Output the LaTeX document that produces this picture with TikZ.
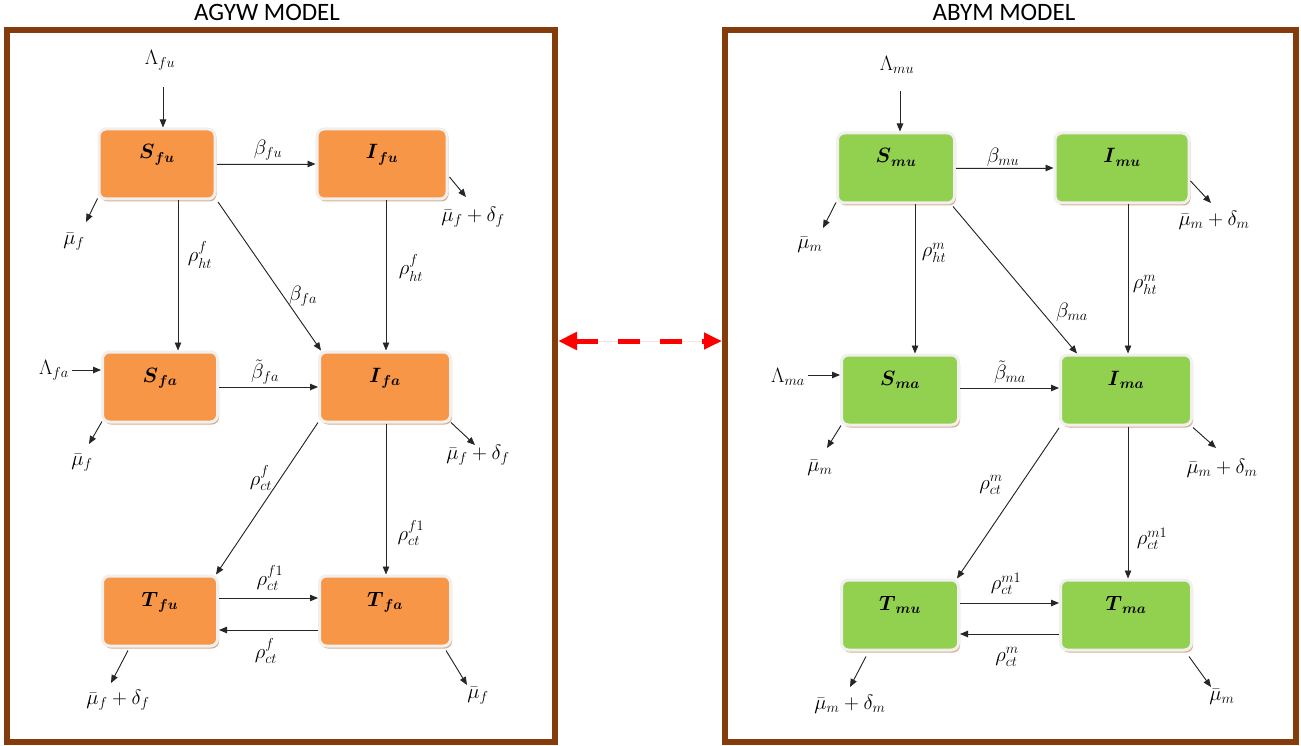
\documentclass[tikz,border=0pt]{standalone}
\usepackage{amsmath}
\usepackage{fontspec}
\newfontfamily\titlefont{Carlito}
\usetikzlibrary{arrows.meta,shadows,calc}
\definecolor{frameBrown}{RGB}{132,60,12}
\definecolor{boxOrange}{RGB}{247,150,70}
\definecolor{boxGreen}{RGB}{146,208,80}
\definecolor{shadowTan}{RGB}{214,176,142}
\definecolor{borderGray}{RGB}{242,240,238}
\newcommand\mathfs{\fontsize{20}{24}\selectfont}
\newcommand\boxfs{\fontsize{21}{25}\selectfont}
\begin{document}
\begin{tikzpicture}[x=1pt,y=-1pt,
  frame/.style={draw=frameBrown, line width=6pt, inner sep=0pt},
  ttl/.style={font=\titlefont\fontsize{25}{28}\selectfont, inner sep=0pt},
  box/.style={rectangle, rounded corners=7pt, line width=3pt, draw=borderGray,
    minimum height=70pt, inner xsep=0pt, inner ysep=0pt, text height=30pt, text depth=40pt,
    font=\boxfs, drop shadow={shadow xshift=1.5pt, shadow yshift=-2.5pt, fill=shadowTan, opacity=1}},
  obox/.style={box, fill=boxOrange},
  gbox/.style={box, fill=boxGreen},
  lbl/.style={font=\mathfs, inner sep=0pt},
  arr/.style={-{Triangle[length=8pt,width=6.5pt]}, line width=0.9pt, draw=black!85, fill=black!85},
  redarr/.style={{Triangle[length=19pt,width=17pt]}-{Triangle[length=18pt,width=16pt]}, draw=red, fill=red, line width=5pt, dash pattern=on 22pt off 20pt}
]
\useasboundingbox (0,0) rectangle (1301,746);
\fill[white] (0,0) rectangle (1301,746);

% frames and titles
\node[frame, minimum width=548pt, minimum height=711pt] (fL) at (281,386) {};
\node[frame, minimum width=571pt, minimum height=711pt] (fR) at (1010.5,386) {};
\node[ttl] (tL) at (267,12) {AGYW MODEL};
\node[ttl] (tR) at (1004,12) {ABYM MODEL};
\draw[redarr] ([yshift=45pt]fL.east) -- ([yshift=45pt]fR.west);

% ---------------- left model ----------------
\node[obox, minimum width=116pt] (Sfu) at (157,164) {$\boldsymbol{S}_{\boldsymbol{fu}}$};
\node[obox, minimum width=130pt] (Ifu) at (382,164) {$\boldsymbol{I}_{\boldsymbol{fu}}$};
\node[obox, minimum width=115pt] (Sfa) at (160,387) {$\boldsymbol{S}_{\boldsymbol{fa}}$};
\node[obox, minimum width=131pt] (Ifa) at (385,387) {$\boldsymbol{I}_{\boldsymbol{fa}}$};
\node[obox, minimum width=115pt] (Tfu) at (160,611) {$\boldsymbol{T}_{\boldsymbol{fu}}$};
\node[obox, minimum width=131pt] (Tfa) at (385,611) {$\boldsymbol{T}_{\boldsymbol{fa}}$};

\node[lbl] (Lfu) at (160,60) {$\Lambda_{fu}$};
\node[lbl] (Lfa) at (54,370) {$\Lambda_{fa}$};
\node[lbl] (bfu) at (268,150) {$\beta_{fu}$};
\node[lbl] (rhtA) at (200,255) {$\rho^{f}_{ht}$};
\node[lbl] (rhtB) at (411,268) {$\rho^{f}_{ht}$};
\node[lbl] (bfa) at (303,296) {$\beta_{fa}$};
\node[lbl] (btfa) at (265,372) {$\tilde{\beta}_{fa}$};
\node[lbl] (rctA) at (261,478) {$\rho^{f}_{ct}$};
\node[lbl] (rctB) at (411,533) {$\rho^{f1}_{ct}$};
\node[lbl] (rctC) at (270,578) {$\rho^{f1}_{ct}$};
\node[lbl] (rctD) at (266,651) {$\rho^{f}_{ct}$};
\node[lbl] (mA) at (74,242) {$\bar{\mu}_f$};
\node[lbl] (mB) at (473,217) {$\bar{\mu}_f+\delta_f$};
\node[lbl] (mC) at (82,463) {$\bar{\mu}_f$};
\node[lbl] (mD) at (478,455) {$\bar{\mu}_f+\delta_f$};
\node[lbl] (mE) at (118,700) {$\bar{\mu}_f+\delta_f$};
\node[lbl] (mF) at (478,696) {$\bar{\mu}_f$};

\draw[arr] ([xshift=3pt,yshift=-17pt]Lfu.south) -- ([xshift=6pt]Sfu.north);
\draw[arr] (Sfu.east) -- (Sfu.east -| Ifu.west);
\coordinate (a1) at ([xshift=21pt]Sfu.south);
\draw[arr] (a1) -- (a1 |- Sfa.north);
\coordinate (a2) at ([xshift=4pt]Ifu.south);
\draw[arr] (a2) -- (a2 |- Ifa.north);
\draw[arr] ([xshift=1.5pt,yshift=-1.5pt]Sfu.south east) -- ([xshift=3pt]Ifa.north west);
\coordinate (a3) at ([xshift=3pt]Lfa.east);
\draw[arr] (a3) -- (a3 -| Sfa.west);
\draw[arr] (Sfa.east) -- (Sfa.east -| Ifa.west);
\draw[arr] ([yshift=1pt]Ifa.south west) -- ([xshift=-3pt]Tfu.north east);
\coordinate (a4) at ([xshift=1pt]Ifa.south);
\draw[arr] (a4) -- (a4 |- Tfa.north);
\coordinate (a5) at ([yshift=13pt]Tfu.east);
\draw[arr] (a5) -- (a5 -| Tfa.west);
\coordinate (a6) at ([yshift=-19pt]Tfa.west);
\draw[arr] (a6) -- (a6 -| Tfu.east);

\coordinate (o1) at (86,222);
\coordinate (o2) at (466,197);
\coordinate (o3) at (89,444);
\coordinate (o4) at (475,445);
\coordinate (o5) at (111,683);
\coordinate (o6) at (467,685);
\draw[arr] ([yshift=2pt]Sfu.south west) -- (o1);
\draw[arr] ([xshift=1pt,yshift=-13pt]Ifu.east) -- (o2);
\draw[arr] ([xshift=1pt,yshift=2pt]Sfa.south west) -- (o3);
\draw[arr] ([xshift=-1pt,yshift=1pt]Ifa.south east) -- (o4);
\draw[arr] ([xshift=-32pt,yshift=-3pt]Tfu.south) -- (o5);
\draw[arr] ([xshift=-6pt,yshift=-3pt]Tfa.south east) -- (o6);

% ---------------- right model ----------------
\node[gbox, minimum width=117pt] (Smu) at (896,168) {$\boldsymbol{S}_{\boldsymbol{mu}}$};
\node[gbox, minimum width=134pt] (Imu) at (1122,168) {$\boldsymbol{I}_{\boldsymbol{mu}}$};
\node[gbox, minimum width=117pt] (Sma) at (900,390) {$\boldsymbol{S}_{\boldsymbol{ma}}$};
\node[gbox, minimum width=131pt] (Ima) at (1126,390) {$\boldsymbol{I}_{\boldsymbol{ma}}$};
\node[gbox, minimum width=117pt] (Tmu) at (900,615) {$\boldsymbol{T}_{\boldsymbol{mu}}$};
\node[gbox, minimum width=131pt] (Tma) at (1126,615) {$\boldsymbol{T}_{\boldsymbol{ma}}$};

\node[lbl] (Lmu) at (897,65) {$\Lambda_{mu}$};
\node[lbl] (Lma) at (788,377) {$\Lambda_{ma}$};
\node[lbl] (bmu) at (1003,157) {$\beta_{mu}$};
\node[lbl] (rhtC) at (934,253) {$\rho^{m}_{ht}$};
\node[lbl] (rhtD) at (1145,285) {$\rho^{m}_{ht}$};
\node[lbl] (bma) at (1072,312) {$\beta_{ma}$};
\node[lbl] (btma) at (1010,372) {$\tilde{\beta}_{ma}$};
\node[lbl] (rctE) at (991,485) {$\rho^{m}_{ct}$};
\node[lbl] (rctF) at (1152,539) {$\rho^{m1}_{ct}$};
\node[lbl] (rctG) at (1006,584) {$\rho^{m1}_{ct}$};
\node[lbl] (rctH) at (1007,657) {$\rho^{m}_{ct}$};
\node[lbl] (nA) at (810,245) {$\bar{\mu}_m$};
\node[lbl] (nB) at (1214,220) {$\bar{\mu}_m+\delta_m$};
\node[lbl] (nC) at (820,468) {$\bar{\mu}_m$};
\node[lbl] (nD) at (1222,468) {$\bar{\mu}_m+\delta_m$};
\node[lbl] (nE) at (850,704) {$\bar{\mu}_m+\delta_m$};
\node[lbl] (nF) at (1222,697) {$\bar{\mu}_m$};

\draw[arr] ([xshift=3pt,yshift=-17pt]Lmu.south) -- ([xshift=4pt]Smu.north);
\draw[arr] (Smu.east) -- (Smu.east -| Imu.west);
\coordinate (b1) at ([xshift=19pt]Smu.south);
\draw[arr] (b1) -- (b1 |- Sma.north);
\coordinate (b2) at ([xshift=6pt]Imu.south);
\draw[arr] (b2) -- (b2 |- Ima.north);
\draw[arr] ([xshift=-3pt,yshift=-2pt]Smu.south east) -- ([xshift=18pt]Ima.north west);
\coordinate (b3) at ([xshift=3pt,yshift=2pt]Lma.east);
\draw[arr] (b3) -- (b3 -| Sma.west);
\coordinate (b4) at ([yshift=2pt]Sma.east);
\draw[arr] (b4) -- (b4 -| Ima.west);
\draw[arr] ([yshift=-1.5pt]Ima.south west) -- ([xshift=-3pt]Tmu.north east);
\coordinate (b5) at ([xshift=2pt]Ima.south);
\draw[arr] (b5) -- (b5 |- Tma.north);
\coordinate (b6) at ([yshift=12pt]Tmu.east);
\draw[arr] (b6) -- (b6 -| Tma.west);
\coordinate (b7) at ([yshift=-19pt]Tma.west);
\draw[arr] (b7) -- (b7 -| Tmu.east);

\coordinate (p1) at (823,228);
\coordinate (p2) at (1211,203);
\coordinate (p3) at (827,448);
\coordinate (p4) at (1216,448);
\coordinate (p5) at (850,687);
\coordinate (p6) at (1211,687);
\draw[arr] ([yshift=2pt]Smu.south west) -- (p1);
\draw[arr] ([yshift=-13pt]Imu.east) -- (p2);
\draw[arr] ([xshift=1pt,yshift=1pt]Sma.south west) -- (p3);
\draw[arr] ([yshift=-1pt]Ima.south east) -- (p4);
\draw[arr] ([xshift=-34pt,yshift=-5pt]Tmu.south) -- (p5);
\draw[arr] ([xshift=-4pt,yshift=-5pt]Tma.south east) -- (p6);
\end{tikzpicture}
\end{document}
